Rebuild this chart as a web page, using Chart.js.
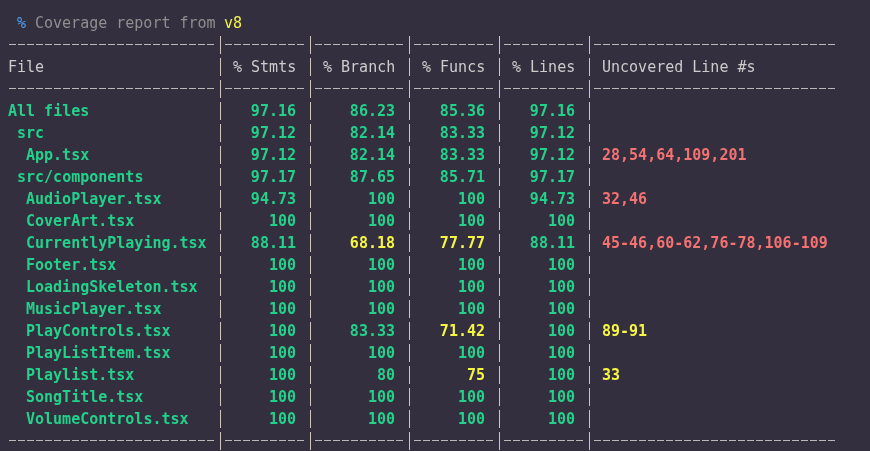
<!DOCTYPE html>
<html>
<head>
<meta charset="utf-8">
<title>Coverage report from v8</title>
<script src="https://cdn.jsdelivr.net/npm/chart.js@4.4.1/dist/chart.umd.min.js"></script>
<style>
    html, body { margin: 0; padding: 0; background: #342f3f; overflow: hidden; }
    canvas { display: block; }
</style>
</head>
<body>
<canvas id="coverageChart" width="870" height="451"></canvas>
<script>
// Coverage data
const files = ['All files', 'src', 'App.tsx', 'src/components', 'AudioPlayer.tsx', 'CoverArt.tsx',
    'CurrentlyPlaying.tsx', 'Footer.tsx', 'LoadingSkeleton.tsx', 'MusicPlayer.tsx', 'PlayControls.tsx',
    'PlayListItem.tsx', 'Playlist.tsx', 'SongTitle.tsx', 'VolumeControls.tsx'];
const depth = [0, 1, 2, 1, 2, 2, 2, 2, 2, 2, 2, 2, 2, 2, 2];
const stmts = [97.16, 97.12, 97.12, 97.17, 94.73, 100, 88.11, 100, 100, 100, 100, 100, 100, 100, 100];
const branch = [86.23, 82.14, 82.14, 87.65, 100, 100, 68.18, 100, 100, 100, 83.33, 100, 80, 100, 100];
const funcs = [85.36, 83.33, 83.33, 85.71, 100, 100, 77.77, 100, 100, 100, 71.42, 100, 75, 100, 100];
const lines = [97.16, 97.12, 97.12, 97.17, 94.73, 100, 88.11, 100, 100, 100, 100, 100, 100, 100, 100];
const uncovered = ['', '', '28,54,64,109,201', '', '32,46', '', '45-46,60-62,76-78,106-109',
    '', '', '', '89-91', '', '33', '', ''];
// 'line' = uncovered lines, 'branch' = only uncovered branches
const uncoveredKind = ['', '', 'line', '', 'line', '', 'line', '', '', '', 'branch', '', 'branch', '', ''];
const headers = ['File', '% Stmts', '% Branch', '% Funcs', '% Lines', 'Uncovered Line #s'];

// Terminal layout (in characters / lines)
const colWidths = [23, 9, 10, 9, 9, 27];
const CHAR_W = 9;
const LINE_H = 22;
const LEFT = 8;
const TOP = 22;
const FIRST_ROW = 4;

const colStart = [];
colWidths.forEach((w, k) => colStart.push(k === 0 ? 0 : colStart[k - 1] + colWidths[k - 1] + 1));
const pipeCols = colStart.slice(1).map(c => c - 1);

const colors = {
    green: '#23d18b',
    yellow: '#f5f543',
    red: '#f47272',
    text: '#cccccc',
    dim: '#8f8f8f',
    blue: '#4a9ff0',
    dash: '#b8b8b8',
    pipe: '#cfc5bc'
};
const MONO = '"DejaVu Sans Mono", "Liberation Mono", monospace';

function pctColor(v) {
    if (v >= 80) return colors.green;
    if (v >= 50) return colors.yellow;
    return colors.red;
}

function valueDataset(label, values, k) {
    return {
        label: label,
        data: values.map((v, i) => ({ x: colStart[k] + colWidths[k] - 1, y: FIRST_ROW + i })),
        texts: values.map(v => String(v)),
        textColors: values.map(pctColor),
        align: 'right'
    };
}

const datasets = [
    {
        label: 'File',
        data: files.map((f, i) => ({ x: colStart[0] + depth[i], y: FIRST_ROW + i })),
        texts: files,
        textColors: files.map(() => colors.green),
        align: 'left'
    },
    valueDataset('% Stmts', stmts, 1),
    valueDataset('% Branch', branch, 2),
    valueDataset('% Funcs', funcs, 3),
    valueDataset('% Lines', lines, 4),
    {
        label: 'Uncovered Line #s',
        data: uncovered.map((u, i) => ({ x: colStart[5] + 1, y: FIRST_ROW + i })),
        texts: uncovered,
        textColors: uncoveredKind.map(k => k === 'line' ? colors.red : colors.yellow),
        align: 'left'
    }
];

// Draws the terminal frame (title, header, separators, pipes) and the cell texts
const terminalText = {
    id: 'terminalText',
    beforeDatasetsDraw(chart) {
        const ctx = chart.ctx;
        const x = chart.scales.x;
        const y = chart.scales.y;
        const base = (line) => y.getPixelForValue(line) + 5.5;
        ctx.save();
        ctx.textBaseline = 'alphabetic';
        ctx.textAlign = 'left';
        ctx.font = '15px ' + MONO;

        // title
        ctx.fillStyle = colors.blue;
        ctx.fillText('%', x.getPixelForValue(1), base(0));
        ctx.fillStyle = colors.dim;
        ctx.fillText('Coverage report from', x.getPixelForValue(3), base(0));
        ctx.fillStyle = colors.yellow;
        ctx.fillText('v8', x.getPixelForValue(24), base(0));

        // separators, one dash per character cell
        const sepLines = [1, 3, FIRST_ROW + files.length];
        ctx.fillStyle = colors.dash;
        sepLines.forEach(line => {
            const py = Math.round(y.getPixelForValue(line));
            colWidths.forEach((w, k) => {
                for (let c = colStart[k]; c < colStart[k] + w; c++) {
                    const px = Math.round(x.getPixelForValue(c));
                    ctx.fillRect(px + 1, py, 7, 1);
                }
            });
        });

        // header
        ctx.fillStyle = colors.text;
        headers.forEach((h, k) => {
            ctx.fillText(h, x.getPixelForValue(colStart[k] + (k === 0 ? 0 : 1)), base(2));
        });

        // pipes
        ctx.fillStyle = colors.pipe;
        for (let line = 1; line <= FIRST_ROW + files.length; line++) {
            const py = Math.round(y.getPixelForValue(line));
            pipeCols.forEach(c => {
                const px = Math.round(x.getPixelForValue(c + 0.5));
                ctx.fillRect(px, py - 8, 1, 18);
            });
        }
        ctx.restore();
    },
    afterDatasetsDraw(chart) {
        const ctx = chart.ctx;
        ctx.save();
        ctx.textBaseline = 'alphabetic';
        ctx.font = 'bold 15px ' + MONO;
        chart.data.datasets.forEach((ds, d) => {
            const meta = chart.getDatasetMeta(d);
            ctx.textAlign = ds.align;
            meta.data.forEach((pt, i) => {
                if (!ds.texts[i]) return;
                ctx.fillStyle = ds.textColors[i];
                ctx.fillText(ds.texts[i], pt.x, pt.y + 5.5);
            });
        });
        ctx.restore();
    }
};

const coverageCtx = document.getElementById('coverageChart').getContext('2d');

new Chart(coverageCtx, {
    type: 'scatter',
    data: { datasets: datasets },
    options: {
        responsive: false,
        animation: false,
        events: [],
        layout: { padding: 0 },
        elements: { point: { radius: 0, hoverRadius: 0 } },
        scales: {
            x: {
                type: 'linear',
                display: false,
                min: -LEFT / CHAR_W,
                max: (870 - LEFT) / CHAR_W
            },
            y: {
                type: 'linear',
                display: false,
                reverse: true,
                min: -TOP / LINE_H,
                max: (451 - TOP) / LINE_H
            }
        },
        plugins: {
            legend: { display: false },
            tooltip: { enabled: false }
        }
    },
    plugins: [terminalText]
});
</script>
</body>
</html>
